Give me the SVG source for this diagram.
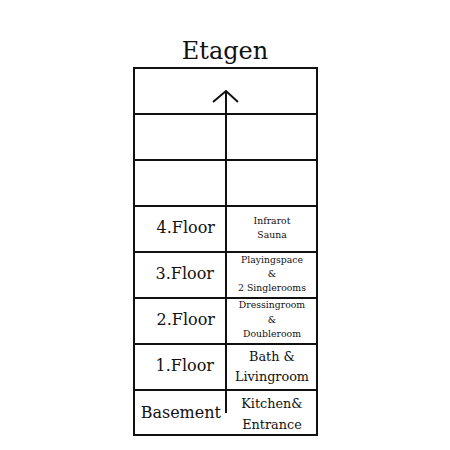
<svg xmlns="http://www.w3.org/2000/svg" width="450" height="450" viewBox="0 0 450 450">
<style>
.ln{stroke:#111;stroke-width:2;fill:none}
.t{font-family:"DejaVu Serif","Liberation Serif",serif;fill:#111}
.fl{font-size:16px;text-anchor:end}
.sm{font-size:9.3px;text-anchor:middle}
.md{font-size:12.8px;text-anchor:middle}
</style>
<rect width="450" height="450" fill="#fff"/>
<text class="t" x="225" y="59" font-size="24" text-anchor="middle">Etagen</text>
<g id="frame">
<rect class="ln" x="134" y="68" width="183" height="367"/>
</g>
<g id="connectors">
<line class="ln" x1="134" y1="114" x2="317" y2="114"/>
<line class="ln" x1="134" y1="160" x2="317" y2="160"/>
<line class="ln" x1="134" y1="206" x2="317" y2="206"/>
<line class="ln" x1="134" y1="252" x2="317" y2="252"/>
<line class="ln" x1="134" y1="298" x2="317" y2="298"/>
<line class="ln" x1="134" y1="344" x2="317" y2="344"/>
<line class="ln" x1="134" y1="390" x2="317" y2="390"/>
<line class="ln" x1="226" y1="92" x2="226" y2="413"/>
<polyline class="ln" points="213,102 226,91 238,102"/>
</g>
<g id="floor4"><text class="t fl" x="215" y="233">4.Floor</text>
<text class="t sm" x="272" y="224">Infrarot</text><text class="t sm" x="272" y="238">Sauna</text></g>
<g id="floor3"><text class="t fl" x="214" y="279">3.Floor</text>
<text class="t sm" x="272" y="263">Playingspace</text><text class="t sm" x="272" y="277">&amp;</text><text class="t sm" x="272" y="291">2 Singlerooms</text></g>
<g id="floor2"><text class="t fl" x="215" y="325">2.Floor</text>
<text class="t sm" x="272" y="308">Dressingroom</text><text class="t sm" x="272" y="323">&amp;</text><text class="t sm" x="272" y="337">Doubleroom</text></g>
<g id="floor1"><text class="t fl" x="214" y="371">1.Floor</text>
<text class="t md" x="272" y="361">Bath &amp;</text><text class="t md" x="272" y="381">Livingroom</text></g>
<g id="basement"><text class="t fl" x="221" y="418">Basement</text>
<text class="t md" x="272" y="408">Kitchen&amp;</text><text class="t md" x="272" y="429">Entrance</text></g>
</svg>
